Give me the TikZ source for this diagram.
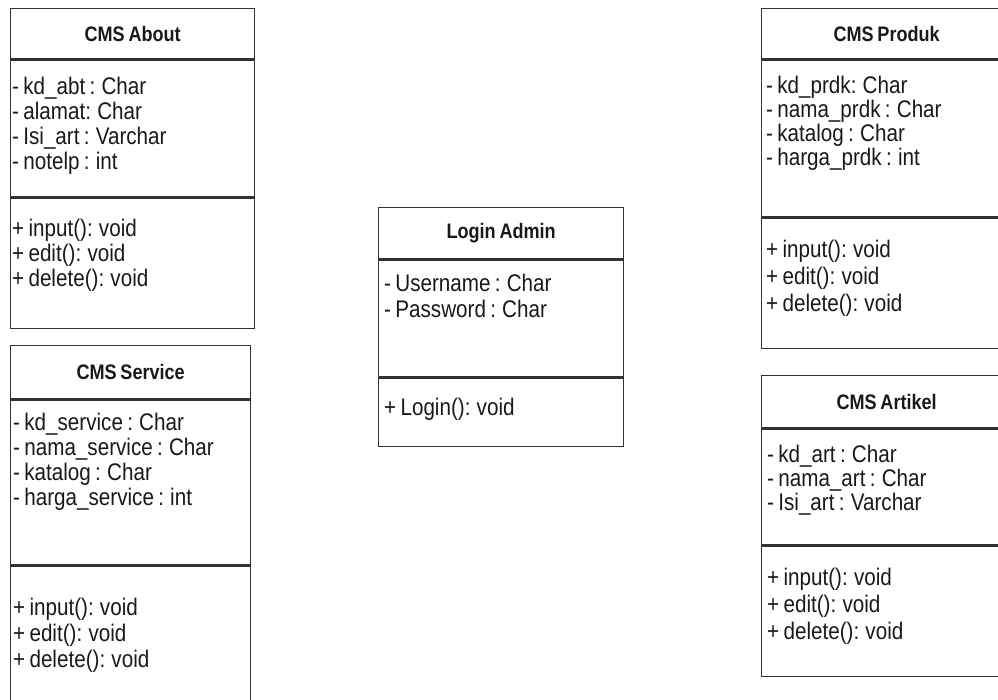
\documentclass[tikz,border=0pt]{standalone}
\usepackage{fontspec}
\setmainfont[FakeStretch=0.86, WordSpace=0.75]{Liberation Sans}
\newcommand\titlesize{\fontsize{21}{24}\selectfont}
\newcommand\membersize{\fontsize{24}{25}\selectfont}
\tikzset
{
    compartment/.style = {rectangle, draw=black!80, line width=1.3pt, inner sep=0pt, anchor=north west},
    classname/.style   = {font=\titlesize\bfseries, text=black!90, inner sep=0pt},
    member/.style      = {anchor=base west, inner sep=0pt, font=\membersize, text=black!90}
}

\begin{document}
\begin{tikzpicture}[x=1pt, y=-1pt]
   \useasboundingbox (0,0) rectangle (998,700);
   \clip (0,0) rectangle (998,700);

   % CMS About
   \node (abouthead) [compartment, minimum width=244pt, minimum height=50pt]  at (10,8)                {};
   \node (aboutattr) [compartment, minimum width=244pt, minimum height=137pt] at (abouthead.south west) {};
   \node (aboutop)   [compartment, minimum width=244pt, minimum height=130pt] at (aboutattr.south west) {};
   \node (aboutname) [classname] at (abouthead) {CMS About};
   \foreach \txt [count=\i] in {- kd\_abt : Char, - alamat: Char, - Isi\_art : Varchar, - notelp : int}
      \node (abouta\i) [member] at (12, {70+25*\i}) {\txt};
   \foreach \txt [count=\i] in {+ input(): void, + edit(): void, + delete(): void}
      \node (abouto\i) [member] at (12, {212+25*\i}) {\txt};

   % CMS Service
   \node (servhead) [compartment, minimum width=240pt, minimum height=53pt]  at (10,345)             {};
   \node (servattr) [compartment, minimum width=240pt, minimum height=165pt] at (servhead.south west) {};
   \node (servop)   [compartment, minimum width=240pt, minimum height=160pt] at (servattr.south west) {};
   \node (servname) [classname] at (servhead) {CMS Service};
   \foreach \txt [count=\i] in {- kd\_service : Char, - nama\_service : Char, - katalog : Char, - harga\_service : int}
      \node (serva\i) [member] at (13, {405+25*\i}) {\txt};
   \foreach \txt [count=\i] in {+ input(): void, + edit(): void, + delete(): void}
      \node (servo\i) [member] at (13, {589+26*\i}) {\txt};

   % Login Admin
   \node (loginhead) [compartment, minimum width=245pt, minimum height=51pt]  at (378,207)             {};
   \node (loginattr) [compartment, minimum width=245pt, minimum height=117pt] at (loginhead.south west) {};
   \node (loginop)   [compartment, minimum width=245pt, minimum height=68pt]  at (loginattr.south west) {};
   \node (loginname) [classname] at (loginhead) {Login Admin};
   \foreach \txt [count=\i] in {- Username : Char, - Password : Char}
      \node (logina\i) [member] at (384, {266+26*\i}) {\txt};
   \node (logino1) [member] at (384,415) {+ Login(): void};

   % CMS Produk
   \node (prodhead) [compartment, minimum width=250pt, minimum height=50pt]  at (761,8)              {};
   \node (prodattr) [compartment, minimum width=250pt, minimum height=157pt] at (prodhead.south west) {};
   \node (prodop)   [compartment, minimum width=250pt, minimum height=130pt] at (prodattr.south west) {};
   \node (prodname) [classname] at (prodhead) {CMS Produk};
   \foreach \txt [count=\i] in {- kd\_prdk: Char, - nama\_prdk : Char, - katalog : Char, - harga\_prdk : int}
      \node (proda\i) [member] at (766, {70+24*\i}) {\txt};
   \foreach \txt [count=\i] in {+ input(): void, + edit(): void, + delete(): void}
      \node (prodo\i) [member] at (766, {231+27*\i}) {\txt};

   % CMS Artikel
   \node (arthead) [compartment, minimum width=250pt, minimum height=52pt]  at (761,375)            {};
   \node (artattr) [compartment, minimum width=250pt, minimum height=116pt] at (arthead.south west) {};
   \node (artop)   [compartment, minimum width=250pt, minimum height=130pt] at (artattr.south west) {};
   \node (artname) [classname] at (arthead) {CMS Artikel};
   \foreach \txt [count=\i] in {- kd\_art : Char, - nama\_art : Char, - Isi\_art : Varchar}
      \node (arta\i) [member] at (767, {438+24*\i}) {\txt};
   \foreach \txt [count=\i] in {+ input(): void, + edit(): void, + delete(): void}
      \node (arto\i) [member] at (767, {558+27*\i}) {\txt};
\end{tikzpicture}
\end{document}
